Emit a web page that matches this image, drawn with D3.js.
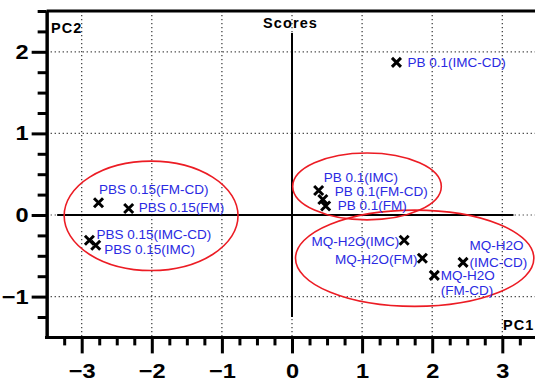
<!DOCTYPE html>
<html>
<head>
<meta charset="utf-8">
<script src="https://cdn.jsdelivr.net/npm/d3@7"></script>
<style>
  html, body { margin: 0; padding: 0; background: #fff; }
  svg { display: block; font-family: "Liberation Sans", Arial, sans-serif; }
</style>
</head>
<body>
<svg id="chart" width="535" height="382"></svg>
<script>
// ---- data ----
const samples = ["PB 0.1(IMC-CD)", "PB 0.1(IMC)", "PB 0.1(FM-CD)", "PB 0.1(FM)",
  "PBS 0.15(FM-CD)", "PBS 0.15(FM)", "PBS 0.15(IMC-CD)", "PBS 0.15(IMC)",
  "MQ-H2O(IMC)", "MQ-H2O(FM)", "MQ-H2O(IMC-CD)", "MQ-H2O(FM-CD)"];
const pc1 = [1.49, 0.38, 0.44, 0.48, -2.76, -2.33, -2.89, -2.80, 1.60, 1.86, 2.44, 2.03];
const pc2 = [1.87, 0.30, 0.19, 0.11, 0.15, 0.08, -0.31, -0.37, -0.31, -0.53, -0.58, -0.74];

const groupNames = ["PBS 0.15", "PB 0.1", "MQ-H2O"];
const groupCx = [-2.01, 1.07, 1.75];
const groupCy = [-0.01, 0.35, -0.53];
const groupRx = [1.24, 1.06, 1.70];
const groupRy = [0.67, 0.41, 0.59];

const xMajorTicks = [-3, -2, -1, 0, 1, 2, 3];
const yMajorTicks = [-1, 0, 1, 2];
const xMinorTicks = d3.range(-13, 15).map(d => d / 4).filter(d => !Number.isInteger(d) && d > -3.5);
const yMinorTicks = d3.range(-5, 11).map(d => d / 4).filter(d => !Number.isInteger(d));

// ---- layout (label placement, px) ----
const labelLayout = [
  {dx: 11, dys: [0], anchor: "start"},
  {dx: 5, dys: [-13], anchor: "start"},
  {dx: 12, dys: [-8], anchor: "start"},
  {dx: 12, dys: [-1], anchor: "start"},
  {dx: 0.5, dys: [-13.5], anchor: "start"},
  {dx: 10, dys: [-1.5], anchor: "start"},
  {dx: 7, dys: [-6], anchor: "start"},
  {dx: 8.5, dys: [4], anchor: "start"},
  {dx: -5, dys: [1], anchor: "end"},
  {dx: -5, dys: [1], anchor: "end"},
  {dx: 6.5, dys: [-17, 0], anchor: "start"},
  {dx: 6.5, dys: [0, 15], anchor: "start"}
];
function splitLabel(s, n) {
  if (n === 1) return [s];
  const i = s.indexOf("(");
  return [s.slice(0, i), s.slice(i)];
}

const svg = d3.select("#chart");
const x = d3.scaleLinear().domain([-3.5, 3.5]).range([46.65, 537.35]);
const y = d3.scaleLinear().domain([-1.5, 2.5]).range([337.4, 11]);

// gridlines
const grid = svg.append("g").attr("stroke", "#333").attr("stroke-width", 1.2)
  .attr("stroke-dasharray", "1.2,2.8");
grid.selectAll("line.v").data(xMajorTicks).join("line")
  .attr("x1", d => x(d)).attr("x2", d => x(d))
  .attr("y1", y(2.5)).attr("y2", y(-1.5));
grid.selectAll("line.h").data(yMajorTicks).join("line")
  .attr("y1", d => y(d)).attr("y2", d => y(d))
  .attr("x1", x(-3.5)).attr("x2", x(3.5));

// zero axes (solid)
svg.append("line").attr("x1", x(-3.35)).attr("x2", x(3.16))
  .attr("y1", y(0)).attr("y2", y(0)).attr("stroke", "#000").attr("stroke-width", 2);
svg.append("line").attr("x1", x(0)).attr("x2", x(0))
  .attr("y1", y(2.23)).attr("y2", y(-1.25)).attr("stroke", "#000").attr("stroke-width", 2);

// ellipses
svg.append("g").selectAll("ellipse").data(groupNames).join("ellipse")
  .attr("cx", (d, i) => x(groupCx[i]))
  .attr("cy", (d, i) => y(groupCy[i]))
  .attr("rx", (d, i) => x(groupCx[i] + groupRx[i]) - x(groupCx[i]))
  .attr("ry", (d, i) => y(groupCy[i]) - y(groupCy[i] + groupRy[i]))
  .attr("fill", "none").attr("stroke", "#ec1c24").attr("stroke-width", 1.6);

// markers
const s = 4.5;
svg.append("g").selectAll("path").data(samples).join("path")
  .attr("d", (d, i) => {
    const px = x(pc1[i]), py = y(pc2[i]);
    return `M${px - s},${py - s}L${px + s},${py + s}M${px - s},${py + s}L${px + s},${py - s}`;
  })
  .attr("stroke", "#000").attr("stroke-width", 3).attr("fill", "none");

// labels
const lab = svg.append("g").attr("fill", "#2a2ae2").attr("font-size", "13.5px");
samples.forEach((name, i) => {
  const L = labelLayout[i];
  const lines = splitLabel(name, L.dys.length);
  lines.forEach((t, j) => {
    lab.append("text")
      .attr("x", x(pc1[i]) + L.dx)
      .attr("y", y(pc2[i]) + L.dys[j])
      .attr("dy", "0.36em")
      .attr("text-anchor", L.anchor)
      .text(t);
  });
});

// axes
const sx = 1.15;
const yAxisMajor = d3.axisLeft(y).tickValues(yMajorTicks).tickSize(15).tickPadding(3).tickSizeOuter(0)
  .tickFormat(d3.format("d"));
const yAxisMinor = d3.axisLeft(y).tickValues(yMinorTicks).tickSize(9).tickSizeOuter(0).tickFormat("");
const xAxisMajor = d3.axisBottom(x).tickValues(xMajorTicks).tickSize(16).tickPadding(10).tickSizeOuter(0)
  .tickFormat(d3.format("d"));
const xAxisMinor = d3.axisBottom(x).tickValues(xMinorTicks).tickSize(8).tickSizeOuter(0).tickFormat("");

function styleAxis(g) {
  g.selectAll("path.domain").attr("stroke", "#000").attr("stroke-width", 3);
  g.selectAll(".tick line").attr("stroke", "#000").attr("stroke-width", 3);
  g.selectAll(".tick text").attr("fill", "#000").attr("font-size", "20.5px")
    .attr("font-weight", "bold").attr("font-family", "'Liberation Sans', Arial, sans-serif")
    .attr("transform", `scale(${sx},1)`)
    .attr("x", function() { return (+d3.select(this).attr("x") || 0) / sx; });
}
const gy = svg.append("g").attr("transform", `translate(${x(-3.5)},0)`);
gy.append("g").call(yAxisMinor).call(styleAxis);
gy.append("g").call(yAxisMajor).call(styleAxis);
const gx = svg.append("g").attr("transform", `translate(0,${y(-1.5)})`);
gx.append("g").call(xAxisMinor).call(styleAxis);
gx.append("g").call(xAxisMajor).call(styleAxis);
gx.selectAll("path.domain").attr("d", `M${x(-3.5) - 1.5},0H${x(3.5)}`);

// top frame
svg.append("line").attr("x1", x(-3.5)).attr("x2", x(3.5))
  .attr("y1", y(2.5)).attr("y2", y(2.5)).attr("stroke", "#000").attr("stroke-width", 3);

// titles
const titles = svg.append("g").attr("font-family", "'Liberation Sans', Arial, sans-serif")
  .attr("font-size", "14.5px").attr("font-weight", "bold").attr("letter-spacing", "1.1px");
titles.append("text").attr("x", 263).attr("y", 28).text("Scores");
titles.append("text").attr("x", 51).attr("y", 33).text("PC2");
titles.append("text").attr("x", 503).attr("y", 330).text("PC1");
</script>
</body>
</html>
